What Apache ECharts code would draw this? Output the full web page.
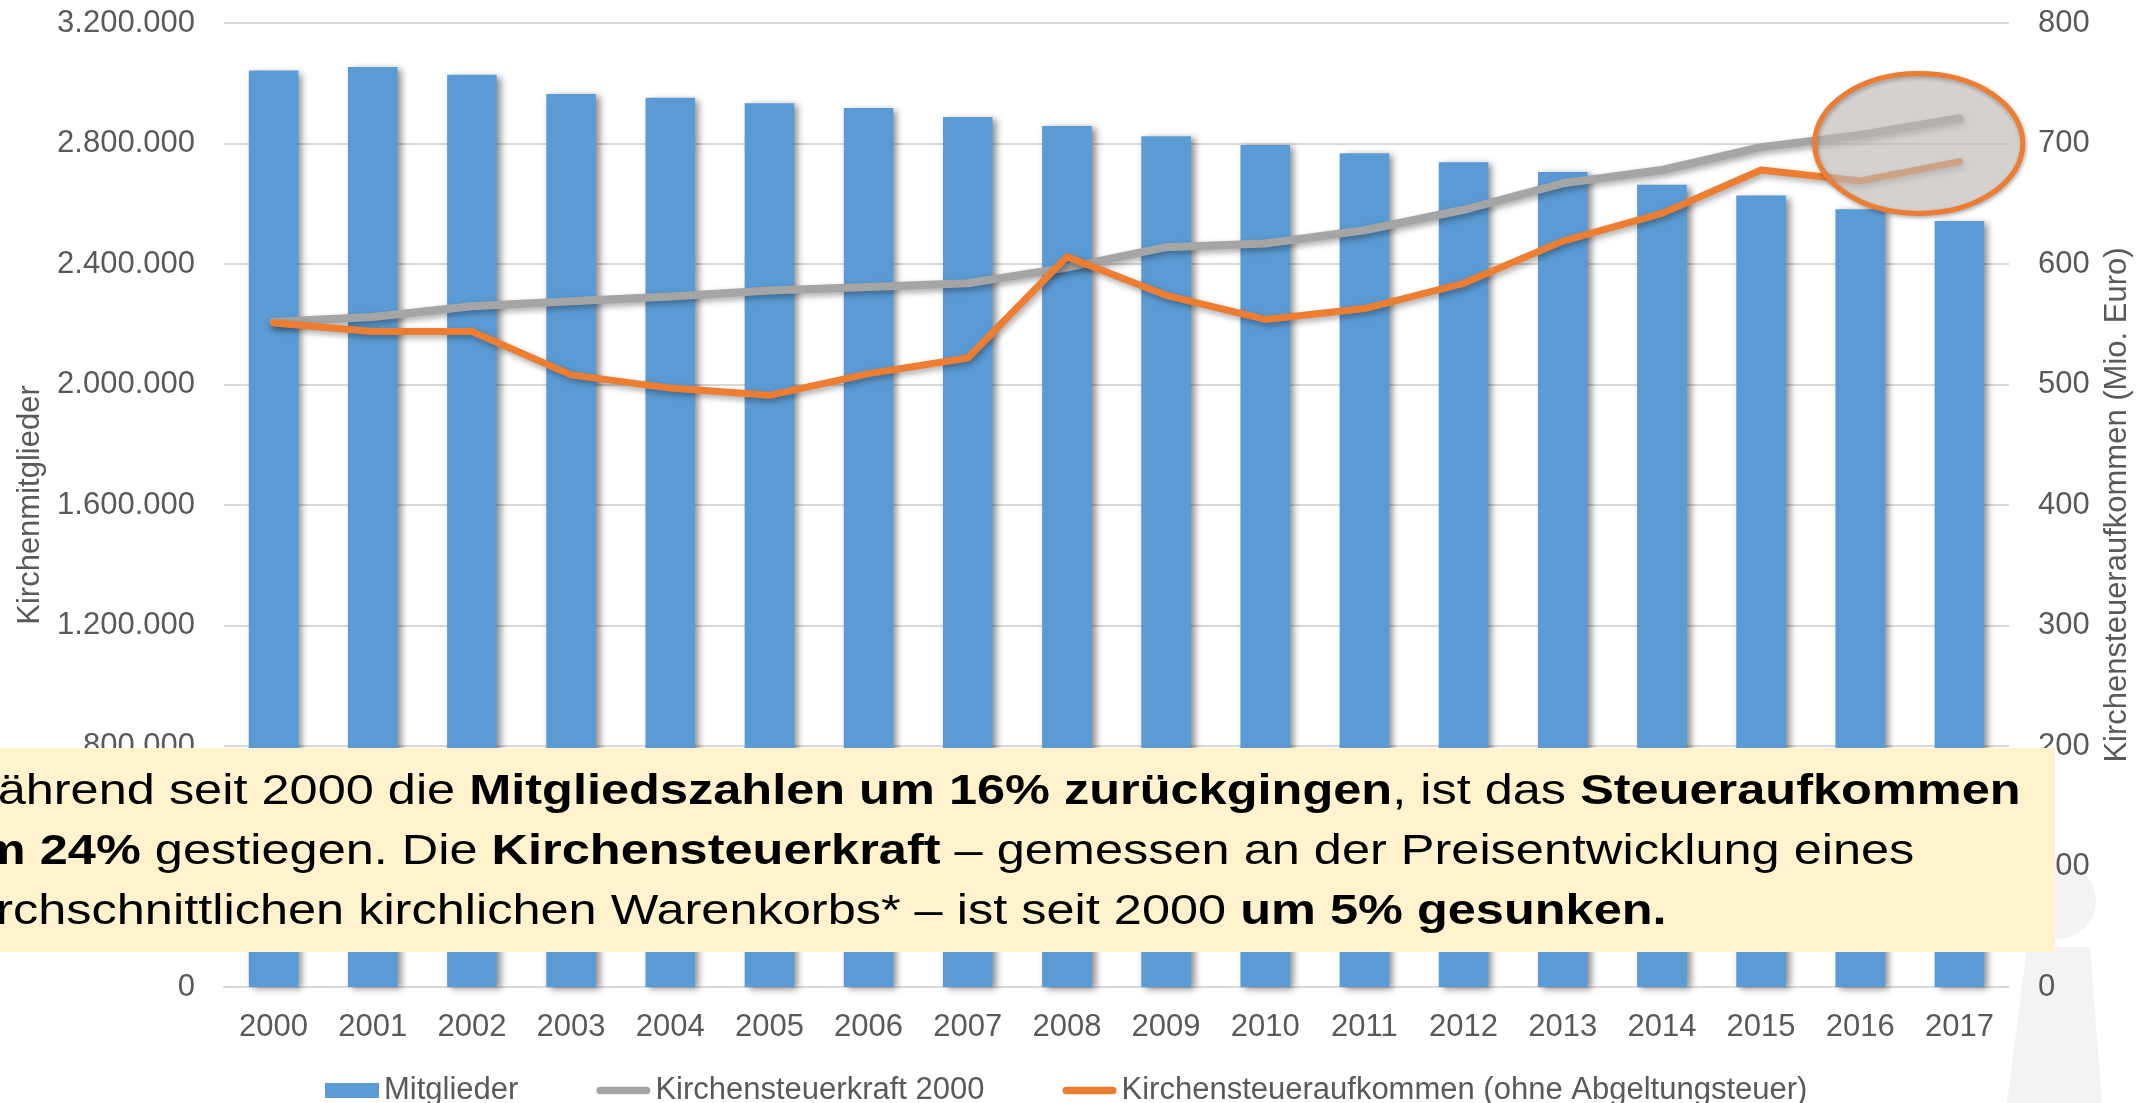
<!DOCTYPE html>
<html>
<head>
<meta charset="utf-8">
<script src="https://cdn.jsdelivr.net/npm/echarts@6/dist/echarts.min.js"></script>
<style>
html,body{margin:0;padding:0;background:#fff;}
#c{width:2141px;height:1103px;}
</style>
</head>
<body>
<div id="c"></div>
<script>
// ---- data ----
const years = ['2000','2001','2002','2003','2004','2005','2006','2007','2008','2009','2010','2011','2012','2013','2014','2015','2016','2017'];
const mitglieder = [3042000,3054000,3028000,2964000,2952000,2934000,2918000,2888000,2858000,2824000,2795000,2768000,2738000,2705000,2663000,2627000,2582000,2543000];
const steuerkraft = [552,556,565,569,573,578,581,584,597,614,617,628,645,667,678,697,707,721];
const aufkommen = [551,544,544,508,497,491,509,522,606,574,554,563,584,619,642,678,669,685];
const leftAxisMax = 3200000, leftAxisStep = 400000;
const rightAxisMax = 800, rightAxisStep = 100;
const seriesNames = ['Mitglieder','Kirchensteuerkraft 2000','Kirchensteueraufkommen (ohne Abgeltungsteuer)'];
const axisTitles = ['Kirchenmitglieder','Kirchensteueraufkommen (Mio. Euro)'];
const boxLines = [
  'Während seit 2000 die {b|Mitgliedszahlen um 16% zurückgingen}, ist das {b|Steueraufkommen}',
  '{b|um 24%} gestiegen. Die {b|Kirchensteuerkraft} – gemessen an der Preisentwicklung eines',
  'durchschnittlichen kirchlichen Warenkorbs* – ist seit 2000 {b|um 5% gesunken.}'
];

const FONT = '"Liberation Sans", Arial, Helvetica, sans-serif';
const GREY = '#595959';
const fmtDE = v => String(v).replace(/\B(?=(\d{3})+(?!\d))/g, '.');
const LINE_ICON = 'path://M4,0L54,0A4,4,0,0,1,54,8L4,8A4,4,0,0,1,4,0Z';

const chart = echarts.init(document.getElementById('c'), null, {renderer:'canvas'});
chart.setOption({
  animation:false,
  textStyle:{fontFamily:FONT},
  grid:{left:224, right:131, top:23, bottom:116, containLabel:false},
  legend:{
    left:320, top:1070, itemGap:78, itemWidth:54, itemHeight:15,
    textStyle:{color:GREY, fontSize:31, fontFamily:FONT},
    data:[
      {name:seriesNames[0], icon:'rect', itemStyle:{shadowBlur:0,shadowOffsetX:0,shadowOffsetY:0}},
      {name:seriesNames[1], icon:LINE_ICON, itemStyle:{shadowBlur:0,shadowOffsetX:0,shadowOffsetY:0}},
      {name:seriesNames[2], icon:LINE_ICON, itemStyle:{shadowBlur:0,shadowOffsetX:0,shadowOffsetY:0}}
    ]
  },
  xAxis:{
    type:'category', data:years, boundaryGap:true,
    axisLine:{show:true, lineStyle:{color:'#D9D9D9', width:2}},
    axisTick:{show:false},
    axisLabel:{color:GREY, fontSize:31, margin:25, fontFamily:FONT}
  },
  yAxis:[
    {type:'value', min:0, max:leftAxisMax, interval:leftAxisStep,
     name:axisTitles[0], nameLocation:'middle', nameRotate:90, nameGap:178,
     nameTextStyle:{color:GREY, fontSize:31, fontFamily:FONT},
     axisLine:{show:false}, axisTick:{show:false},
     axisLabel:{color:GREY, fontSize:31, margin:29, formatter:fmtDE, fontFamily:FONT},
     splitLine:{lineStyle:{color:'#D9D9D9', width:2}}},
    {type:'value', min:0, max:rightAxisMax, interval:rightAxisStep, position:'right',
     name:axisTitles[1], nameLocation:'middle', nameRotate:90, nameGap:93,
     nameTextStyle:{color:GREY, fontSize:31, fontFamily:FONT},
     axisLine:{show:false}, axisTick:{show:false},
     axisLabel:{color:GREY, fontSize:31, margin:29, fontFamily:FONT},
     splitLine:{show:false}}
  ],
  series:[
    {name:seriesNames[0], type:'bar', data:mitglieder, barWidth:'50%', yAxisIndex:0,
     itemStyle:{color:'#5B9BD5', shadowColor:'rgba(0,0,0,0.45)', shadowBlur:7, shadowOffsetX:4, shadowOffsetY:2}},
    {name:seriesNames[1], type:'line', data:steuerkraft, yAxisIndex:1, symbol:'none', smooth:false,
     lineStyle:{color:'#A5A5A5', width:8, cap:'round', join:'round', shadowColor:'rgba(0,0,0,0.35)', shadowBlur:6, shadowOffsetX:2, shadowOffsetY:3},
     itemStyle:{color:'#A5A5A5'}},
    {name:seriesNames[2], type:'line', data:aufkommen, yAxisIndex:1, symbol:'none', smooth:false,
     lineStyle:{color:'#ED7D31', width:7, cap:'round', join:'round', shadowColor:'rgba(0,0,0,0.35)', shadowBlur:6, shadowOffsetX:2, shadowOffsetY:3},
     itemStyle:{color:'#ED7D31'}}
  ]
});

// ---- annotation ellipse located through the axes ----
const x16 = chart.convertToPixel({xAxisIndex:0}, '2016');
const x17 = chart.convertToPixel({xAxisIndex:0}, '2017');
const cx = x16 + 0.59*(x17 - x16);
const cy = chart.convertToPixel({yAxisIndex:1}, 700);
const ry = cy - chart.convertToPixel({yAxisIndex:1}, 758);
const rx = 1.05*(x17 - x16);

const richStyles = {
  b:{fontWeight:'bold', fontSize:43, fontFamily:FONT, fill:'#000'}
};
const lineX = [-50, -50, -60];
const textEls = boxLines.map((t,i)=>({
  type:'text', z:101, x:lineX[i], y:792 + i*60, scaleX:1.1741, scaleY:1,
  style:{text:t, fontSize:43, fontFamily:FONT, fill:'#000', verticalAlign:'middle', align:'left', rich:richStyles}
}));

chart.setOption({
  graphic:[
    // faint silhouette at bottom right
    {type:'circle', z:0, shape:{cx:2058, cy:901, r:38}, style:{fill:'#F3F3F3'}},
    {type:'polygon', z:0, shape:{points:[[2027,947],[2090,947],[2102,1103],[2007,1103]]}, style:{fill:'#F3F3F3'}},
    {type:'ellipse', z:50, shape:{cx:cx, cy:cy, rx:rx, ry:ry},
     style:{fill:'rgba(212,207,201,0.58)', stroke:'#ED7D31', lineWidth:5, shadowBlur:4, shadowColor:'rgba(0,0,0,0.3)', shadowOffsetX:1, shadowOffsetY:2}},
    {type:'rect', z:100, shape:{x:-10, y:748, width:2065, height:204}, style:{fill:'#FFF2CC'}},
    ...textEls
  ]
});
</script>
</body>
</html>
